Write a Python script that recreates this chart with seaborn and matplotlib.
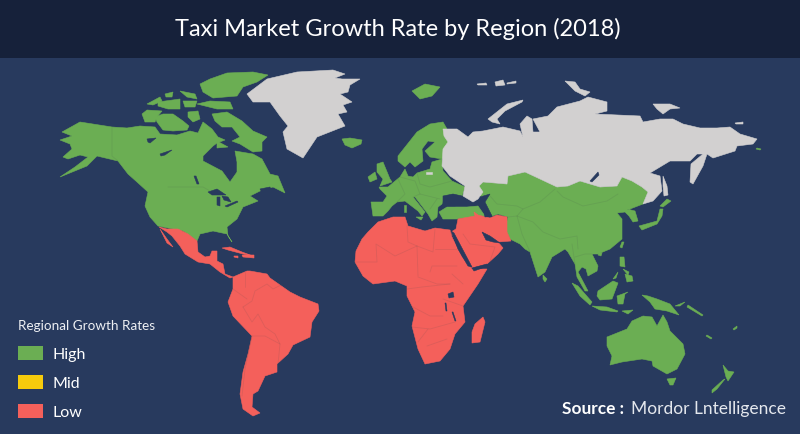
#!/usr/bin/env python
# coding: utf-8
''' taxi_market_map.py
Outlines are in map units (same frame as the 800x435 picture).
'''

import matplotlib
matplotlib.use('Agg')
import matplotlib.pyplot as plt
import pandas as pd
import seaborn as sns

# ---- labels
title = 'Taxi Market Growth Rate by Region (2018)'
legend_title = 'Regional Growth Rates'
legend_labels = ['High', 'Mid', 'Low']
source_bold = 'Source :'
source_rest = 'Mordor Lntelligence'

# ---- high growth regions
north_america = [(62,133),(80,123),(112,128),(127,129),(140,127),(155,128),(160,135),(177,136),(190,132),(198,134),(203,123),
                 (212,130),(218,138),(225,141),(217,144),(213,147),(203,157),(203,162),(222,172),(230,183),(237,173),(237,163),(235,152),
                 (253,155),(262,160),(270,175),(278,177),(285,194),(273,188),(260,192),(250,197),(258,202),(243,208),
                 (237,220),(227,228),(228,237),(232,243),(227,235),(213,232),(200,235),(197,242),(183,232),(173,230),
                 (158,227),(150,218),(145,207),(148,193),(137,183),(128,175),(118,162),(97,157),(87,167),(60,178),
                 (75,168),(88,158),(80,156),(68,160),(63,158),(72,150),(70,145),(60,141),(72,137)]
arctic_islands = [
    [(212,115),(227,113),(242,122),(253,132),(267,138),(262,143),(262,152),(253,153),(240,145),(232,142),(240,138),(232,128),(222,128),(215,122)],
    [(200,85),(210,80),(227,74),(253,73),(268,76),(257,83),(243,88),(237,97),(213,99),(203,93)],
    [(210,102),(230,103),(233,110),(217,110),(197,105)],
    [(180,92),(195,95),(197,100),(187,98)],
    [(165,95),(173,93),(172,98),(166,98)],
    [(147,105),(160,98),(162,102),(153,106)],
    [(158,103),(180,100),(180,110),(168,110),(158,107)],
    [(183,102),(197,102),(195,108),(185,108)],
    [(142,115),(147,111),(162,112),(157,118),(155,123),(145,123)],
    [(155,118),(163,115),(173,115),(183,122),(189,127),(187,131),(173,132),(163,131),(157,123)],
    [(188,113),(198,112),(200,120),(193,123),(188,118)],
    [(217,142),(228,148),(217,149)],
]
scandinavia = [(398,157),(417,133),(430,125),(443,123),(447,130),(448,143),(447,155),(442,160),(430,158),(425,152),
               (435,143),(428,142),(422,150),(423,162),(415,168),(410,163),(405,168),(398,162)]
europe = [(379,188),(388,188),(400,178),(405,170),(408,177),(413,178),(417,174),(430,170),(432,163),(442,160),
          (443,172),(452,182),(465,188),(462,197),(453,195),(445,197),(442,205),(438,208),(437,218),(432,222),
          (428,215),(415,198),(413,198),(425,213),(422,217),(418,212),(405,202),(397,203),(392,207),(388,212),
          (383,217),(373,217),(371,203),(383,203),(387,197),(380,190)]
europe_islands = [
    [(377,165),(383,163),(390,180),(392,183),(380,187),(383,180),(377,173)],
    [(368,178),(375,173),(377,180),(370,183)],
    [(342,140),(350,139),(362,141),(361,145),(352,149),(345,146)],
    [(412,92),(425,85),(440,88),(432,97),(420,100)],
    [(404,206),(406,206),(406,213),(404,213)],
    [(416,218),(423,218),(421,221)],
]
turkey = [(439,213),(447,208),(467,208),(478,207),(485,217),(457,220),(443,220)]
asia = [(479,187),(483,183),(507,185),(508,177),(525,173),(540,180),(557,188),(568,187),(580,182),(600,188),
        (617,187),(622,178),(632,182),(642,188),(648,193),(643,205),(630,210),(627,210),(635,212),(638,222),
        (633,223),(629,217),(625,213),(617,214),(622,220),(622,227),(622,240),(610,250),(598,255),(592,255),
        (598,267),(597,272),(588,277),(586,270),(582,268),(578,273),(588,292),(585,292),(577,278),(575,265),
        (568,253),(565,250),(552,258),(545,273),(538,278),(530,253),(525,250),(520,245),(510,240),(505,230),
        (508,218),(498,215),(492,217),(479,195)]
asia_islands = [
    [(639,227),(657,222),(660,210),(663,210),(662,217),(657,225),(642,231)],
    [(660,207),(667,200),(671,202),(663,208)],
    [(622,243),(624,243),(622,249),(620,248)],
    [(599,253),(602,254),(601,257),(598,256)],
    [(620,258),(624,258),(625,268),(620,267)],
    [(625,275),(632,277),(633,282),(627,283)],
    [(623,270),(629,273),(628,276)],
    [(613,280),(618,273),(616,279)],
    [(598,292),(613,282),(618,284),(612,300),(600,301),(597,297)],
    [(572,284),(578,287),(592,303),(590,306),(580,297)],
    [(592,307),(607,308),(618,312),(617,313),(600,311)],
    [(622,312),(633,311),(628,315)],
    [(617,297),(628,293),(625,295),(623,305),(618,305)],
    [(642,296),(648,297),(657,300),(670,305),(679,316),(670,313),(667,312),(655,310),(650,303)],
    [(675,307),(685,303),(680,307)],
    [(688,306),(703,316),(702,317),(687,308)],
    [(707,336),(712,339),(711,340),(706,337)],
    [(733,330),(737,327),(737,329),(734,331)],
    [(543,276),(547,280),(545,283),(543,280)],
    [(757,149),(761,150),(760,151),(756,150)],
]
australia = [(607,338),(627,330),(632,322),(643,317),(652,318),(657,327),(663,316),(667,323),(670,332),(683,345),
             (685,355),(677,370),(667,375),(653,367),(652,362),(642,360),(622,363),(610,366),(612,357),(607,347)]
oceania_islands = [
    [(667,380),(676,379),(673,386),(670,386)],
    [(723,366),(728,372),(734,373),(728,382),(726,378)],
    [(725,380),(717,390),(712,394),(712,391),(723,381)],
]

# ---- low growth regions
mexico_central = [(159,228),(167,230),(178,230),(188,235),(197,242),(198,253),(205,258),(210,257),(212,252),(217,252),
                  (217,262),(223,265),(225,275),(233,278),(230,279),(220,273),(210,265),(198,263),(185,255),(180,247),
                  (172,237),(167,233)]
baja = [(160,230),(167,240),(173,248),(167,244)]
caribbean = [
    [(222,249),(230,248),(242,253),(253,257),(243,255),(228,251)],
    [(242,256),(254,256),(254,259),(243,258)],
    [(234,257),(238,257),(238,259),(234,258)],
]
south_america = [(233,278),(247,272),(250,272),(267,275),(270,279),(290,293),(300,298),(318,305),(319,312),(312,323),
                 (310,338),(293,346),(288,355),(277,365),(277,373),(265,377),(258,392),(253,395),(252,408),(260,414),
                 (253,417),(243,410),(240,395),(243,373),(248,355),(252,337),(233,317),(228,303),(233,290)]
africa = [(368,233),(378,223),(393,218),(405,218),(408,227),(425,232),(435,229),(450,231),(452,238),(462,258),
          (472,270),(487,270),(478,285),(463,307),(465,323),(455,335),(450,350),(440,362),(425,365),(418,350),
          (412,327),(415,313),(407,297),(407,287),(395,282),(373,285),(363,277),(355,263),(356,252),(362,240)]
madagascar = [(483,318),(485,323),(480,343),(472,344),(472,333),(475,325)]
middle_east = [(474,213),(478,216),(490,219),(497,216),(507,218),(507,233),(511,242),(498,243),(503,249),(498,255),
               (487,265),(472,269),(463,255),(451,233),(456,230),(458,220),(475,217)]

# ---- no data regions
greenland = [(247,95),(267,80),(297,73),(333,71),(345,75),(335,79),(342,80),(360,80),(350,86),(348,93),(340,95),(352,103),(343,106),(347,113),
             (338,115),(345,127),(317,138),(303,159),(287,150),(283,133),(288,127),(280,117),(270,103),(253,103)]
russia = [(443,130),(457,130),(468,138),(473,133),(483,132),(503,128),(520,132),(523,138),(520,125),(527,117),
          (532,120),(533,133),(540,133),(533,120),(548,117),(557,108),(580,102),(588,98),(607,103),(607,112),
          (595,115),(640,117),(643,123),(660,120),(673,120),(683,125),(700,129),(717,129),(730,128),(740,135),
          (757,140),(753,145),(737,147),(735,152),(713,159),(707,155),(703,167),(693,185),(690,183),(691,165),
          (703,155),(697,155),(690,162),(670,162),(650,174),(660,177),(662,192),(653,202),(643,205),(648,193),
          (642,188),(632,182),(622,178),(617,187),(600,188),(580,182),(568,187),(557,188),(540,180),(525,173),
          (508,177),(507,185),(483,183),(479,187),(483,193),(478,200),(473,203),(463,197),(465,187),(450,177),
          (442,167),(443,150),(448,143),(444,137)]
russia_islands = [
    [(488,120),(507,105),(523,101),(522,103),(505,112),(497,120),(500,125),(492,123)],
    [(477,85),(486,84),(487,86),(478,86)],
    [(495,83),(503,81),(505,86),(496,87)],
    [(507,84),(516,82),(516,84),(507,85)],
    [(565,82),(575,83),(580,90),(590,93),(585,97),(575,92)],
    [(653,105),(670,105),(680,109),(670,110),(663,115),(657,110)],
    [(735,124),(743,123),(743,125),(736,125)],
    [(663,177),(667,187),(668,196),(664,197),(663,187)],
    [(426,173),(432,173),(432,175),(426,175)],
]

# ---- water on top of land
water = [
    [(208,193),(217,190),(226,196),(218,196),(212,196)],
    [(217,198),(220,198),(220,207),(217,206)],
    [(222,197),(228,198),(231,203),(224,201)],
    [(225,207),(237,202),(238,203),(227,208)],
    [(260,190),(270,188),(272,195),(264,197)],
    [(147,140),(156,139),(150,144),(148,143)],
    [(160,155),(172,151),(165,156),(161,157)],
    [(194,177),(196,177),(199,185),(197,185)],
    [(480,198),(490,195),(485,203),(492,217),(485,218),(483,208)],
    [(590,182),(598,173),(599,176),(592,183)],
    [(448,295),(453,293),(454,298),(449,299)],
    [(482,233),(490,237),(500,244),(493,243),(486,241)],
    [(451,232),(454,234),(472,268),(468,267),(458,250)],
    [(472,269),(487,265),(488,267),(474,272)],
    [(443,197),(453,195),(462,197),(463,203),(455,207),(443,207)],
    [(452,313),(453,313),(456,322),(455,322)],
    [(445,304),(446,304),(447,312),(446,312)],
]

# ---- country borders
borders = [
    [(112,128),(112,157),(118,162)],
    [(168,188),(203,188),(210,192)],
    [(355,263),(377,263),(376,245),(395,257),(417,247),(433,253),(435,230)],
    [(435,250),(457,250)],
    [(407,227),(408,243),(417,247)],
    [(417,247),(418,277)],
    [(430,273),(432,267),(457,267)],
    [(452,275),(463,285)],
    [(418,278),(437,285),(450,285)],
    [(407,290),(422,288),(450,285)],
    [(443,300),(463,307)],
    [(413,308),(430,317),(443,317)],
    [(412,328),(430,330),(455,323)],
    [(418,343),(428,330)],
    [(427,347),(447,340)],
    [(463,235),(470,245),(495,248),(490,262)],
    [(245,273),(245,288)],
    [(233,290),(247,300)],
    [(243,308),(252,302),(255,292),(267,285),(273,290),(283,285)],
    [(243,308),(252,323),(258,315),(265,328),(275,335),(280,345),(278,365)],
    [(252,337),(245,370),(242,397)],
    [(252,337),(265,337),(280,345)],
    [(398,180),(405,195),(397,203)],
    [(400,178),(415,182),(420,195),(440,200)],
    [(417,174),(420,185),(430,188),(452,182)],
    [(413,198),(420,195)],
    [(437,200),(430,210)],
    [(557,192),(563,198),(583,207),(607,202),(618,195)],
    [(555,190),(540,203),(523,210),(517,217),(533,223),(543,233),(560,240),(577,237),(578,250)],
    [(517,217),(522,235),(530,253)],
    [(508,218),(517,217)],
    [(490,197),(497,205),(517,207),(523,210)],
    [(572,245),(575,265)],
    [(575,258),(585,255),(592,255)],
]

HIGH = '#6BAE53'
MID = '#F6CB0C'
LOW = '#F4605B'
GREY = '#D2D0D0'
SEA = '#283A5E'
BAND = '#16213A'


def fill_all(ax, shapes, colour):
    for shape in shapes:
        xs, ys = zip(*shape)
        ax.fill(xs, ys, color=colour, lw=0.4, zorder=2)


def border_frame(lines):
    rows = []
    for num, line in enumerate(lines):
        for x, y in line:
            rows.append({'x': x, 'y': y, 'line': num})
    return pd.DataFrame(rows)


if __name__ == "__main__":
    sns.set_style('white')
    plt.rcParams['font.family'] = ['Lato', 'DejaVu Sans']

    fig = plt.figure(figsize=(8, 4.35), dpi=100, facecolor=SEA)
    ax = fig.add_axes([0, 0, 1, 1], facecolor=SEA)

    fill_all(ax, [north_america, scandinavia, europe, turkey, asia, australia]
             + arctic_islands + europe_islands + asia_islands + oceania_islands, HIGH)
    fill_all(ax, [mexico_central, baja, south_america, africa, madagascar, middle_east]
             + caribbean, LOW)
    fill_all(ax, [greenland, russia] + russia_islands, GREY)
    fill_all(ax, water, SEA)

    dfb = border_frame(borders)
    sns.lineplot(data=dfb, x='x', y='y', units='line', estimator=None, sort=False,
                 color='#3F4A50', alpha=0.13, lw=0.6, ax=ax, legend=False, zorder=3)

    ax.axhspan(0, 59, color=BAND, lw=0, zorder=4)
    ax.text(398, 29, title, color='white', fontsize=17.0, ha='center', va='center', zorder=5)

    ax.text(18, 326, legend_title, color='#EDEFF3', fontsize=9.7, va='center')
    ax.barh([354, 383, 412], [25, 25, 25], left=18, height=14,
            color=[HIGH, MID, LOW], edgecolor='none', zorder=3)
    for lab, ypos in zip(legend_labels, [354, 383, 412]):
        ax.text(52, ypos + 1, lab, color='white', fontsize=11.5, va='center')

    ax.text(562, 409, source_bold, color='white', fontsize=12.4, fontweight='bold', va='center')
    ax.text(631, 409, source_rest, color='#E4E7ED', fontsize=12.5, va='center')

    ax.set_xlim(0, 800)
    ax.set_ylim(435, 0)
    ax.set_xlabel('')
    ax.set_ylabel('')
    ax.axis('off')
    fig.savefig('out.png', dpi=100, facecolor=SEA)
